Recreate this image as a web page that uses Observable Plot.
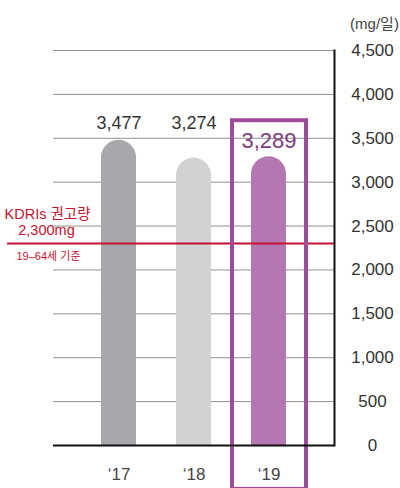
<!DOCTYPE html>
<html>
<head>
<meta charset="utf-8">
<script src="https://cdn.jsdelivr.net/npm/d3@7"></script>
<script src="https://cdn.jsdelivr.net/npm/@observablehq/plot@0.6"></script>
<style>
  html, body { margin: 0; padding: 0; background: #fff; }
  #chart svg { display: block; }
</style>
</head>
<body>
<div id="chart"></div>
<script>
// Daily sodium intake (mg/day) by survey year
const years = ["\u201817", "\u201818", "\u201819"];
const intake = [3477, 3274, 3289];
const barColors = ["#a7a8ab", "#d1d2d4", "#b377b1"];
const yTicks = [0, 500, 1000, 1500, 2000, 2500, 3000, 3500, 4000, 4500];
const unitLabel = "(mg/일)";
const kdriValue = 2300;
const kdriLines = ["KDRIs 권고량", "2,300mg"];
const kdriNote = "19\u201364세 기준";
const highlightYear = "\u201819";
const highlightTop = 3700;
const highlightBottom = -500;

const rows = years.map((year, i) => ({year, value: intake[i], color: barColors[i]}));
const plain = rows.filter(d => d.year !== highlightYear);
const focus = rows.filter(d => d.year === highlightYear);

const font = "'Liberation Sans', 'Noto Sans CJK KR', sans-serif";
const red = "#c4122f";
const purple = "#a04a9c";

const chart = Plot.plot({
  width: 400,
  height: 488,
  marginTop: 50,
  marginBottom: 43,
  marginLeft: 53,
  marginRight: 66,
  style: {fontFamily: font, background: "#fff"},
  x: {type: "band", domain: years, paddingInner: 0, paddingOuter: 0.373},
  y: {domain: [0, 4500]},
  marks: [
    Plot.gridY(yTicks, {stroke: "#8f8f8f", strokeOpacity: 1, strokeWidth: 1}),
    // rounded-top bars: a fully rounded bar, with a square bar covering the lower half
    Plot.barY(rows, {x: "year", y: "value", fill: "color", insetLeft: 20, insetRight: 20, rx: 17.5}),
    Plot.barY(rows, {x: "year", y: d => d.value / 2, fill: "color", insetLeft: 20, insetRight: 20}),
    // recommended intake line
    Plot.ruleY([kdriValue], {stroke: red, strokeWidth: 2, insetLeft: -46}),
    Plot.text([kdriLines[0]], {frameAnchor: "left", y: () => kdriValue, dx: -6, dy: -29, textAnchor: "middle", fill: red, fontSize: 14.5}),
    Plot.text([kdriLines[1]], {frameAnchor: "left", y: () => kdriValue, dx: -7, dy: -13, textAnchor: "middle", fill: red, fontSize: 14.5}),
    Plot.text([kdriNote], {frameAnchor: "left", y: () => kdriValue, dx: -5, dy: 13, textAnchor: "middle", fill: red, fontSize: 11}),
    // value labels
    Plot.text(plain, {x: "year", frameAnchor: "top", lineAnchor: "middle", dy: 73, text: d => d3.format(",")(d.value), fill: "#333", fontSize: 18}),
    Plot.text(focus, {x: "year", frameAnchor: "top", lineAnchor: "middle", dy: 90, text: d => d3.format(",")(d.value), fill: "#7e3b7d", fontSize: 22}),
    // highlight box around the latest year
    Plot.rect(focus, {x: "year", y1: () => highlightTop, y2: () => highlightBottom, fill: "none", stroke: purple, strokeWidth: 4, insetLeft: 1, insetRight: 0}),
    // axis lines
    Plot.ruleY([0], {stroke: "#111", strokeWidth: 2}),
    Plot.frame({anchor: "right", stroke: "#111", strokeWidth: 2}),
    Plot.axisY(yTicks, {anchor: "right", tickSize: 0, tickPadding: 0, dx: 38, textAnchor: "middle", fontSize: 17, fill: "#333", tickFormat: d3.format(","), label: null}),
    Plot.axisX({anchor: "bottom", tickSize: 0, tickPadding: 22, fontSize: 17, fill: "#444", label: null}),
    Plot.text([unitLabel], {frameAnchor: "top-right", dx: 40, dy: -32, textAnchor: "middle", fill: "#444", fontSize: 15})
  ]
});
document.getElementById("chart").append(chart);
</script>
</body>
</html>
